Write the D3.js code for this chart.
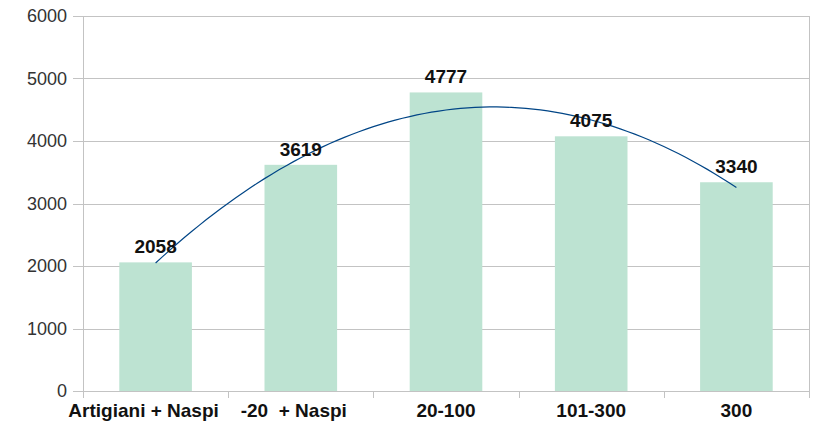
<!DOCTYPE html>
<html>
<head>
<meta charset="utf-8">
<script src="https://cdn.jsdelivr.net/npm/d3@7"></script>
<style>
  body { margin: 0; background: #fff; }
  svg { display: block; font-family: "Liberation Sans", Arial, sans-serif; }
  text { white-space: pre; }
</style>
</head>
<body>
<svg id="chart" width="818" height="423"></svg>
<script>
// data
const categories = ['Artigiani + Naspi', '-20  + Naspi', '20-100', '101-300', '300']
const values = [2058, 3619, 4777, 4075, 3340]
const yTicks = [0, 1000, 2000, 3000, 4000, 5000, 6000]
// shift of the first two category labels, as they overlap in the original
const labelShift = [-12, -7, 0, 0, 0]

let svg = d3.select('#chart')

let x = d3.scaleBand().domain(categories).range([83, 809]).paddingInner(0.5).paddingOuter(0.25)
let y = d3.scaleLinear().domain([0, 6000]).range([391, 16])

const GRID = '#c3c3c3'

// gridlines + y ticks
svg.append('g')
  .selectAll('line')
  .data(yTicks)
  .enter()
  .append('line')
  .attr('x1', 73)
  .attr('x2', 809)
  .attr('y1', d => Math.round(y(d)) + 0.5)
  .attr('y2', d => Math.round(y(d)) + 0.5)
  .attr('stroke', GRID)

// y labels
svg.append('g')
  .selectAll('text')
  .data(yTicks)
  .enter()
  .append('text')
  .attr('x', 67)
  .attr('y', d => y(d))
  .attr('dy', '0.35em')
  .attr('text-anchor', 'end')
  .attr('font-size', '18px')
  .attr('fill', '#333')
  .text(d => d)

// bars
svg.append('g')
  .selectAll('rect')
  .data(values)
  .enter()
  .append('rect')
  .attr('x', (d, i) => x(categories[i]))
  .attr('y', d => y(d))
  .attr('width', x.bandwidth())
  .attr('height', d => y(0) - y(d))
  .attr('fill', '#bde3d2')

// axes lines
let domainEdges = [x.range()[0], ...categories.map(c => x(c) - x.step() * x.paddingInner() / 2).slice(1), x.range()[1]]
svg.append('g')
  .selectAll('line')
  .data(domainEdges)
  .enter()
  .append('line')
  .attr('x1', d => Math.round(d) + 0.5)
  .attr('x2', d => Math.round(d) + 0.5)
  .attr('y1', 391)
  .attr('y2', 398)
  .attr('stroke', GRID)

svg.append('line')
  .attr('x1', 83.5).attr('x2', 83.5)
  .attr('y1', 16).attr('y2', 398)
  .attr('stroke', GRID)
svg.append('line')
  .attr('x1', 809.5).attr('x2', 809.5)
  .attr('y1', 16).attr('y2', 398)
  .attr('stroke', GRID)
svg.append('line')
  .attr('x1', 83).attr('x2', 810)
  .attr('y1', Math.round(y(0)) + 0.5).attr('y2', Math.round(y(0)) + 0.5)
  .attr('stroke', GRID)

// quadratic trend line (least squares on bar values)
let n = values.length
let ts = values.map((v, i) => i - (n - 1) / 2)
let mean = d3.mean(values)
let b = d3.sum(values, (v, i) => ts[i] * v) / d3.sum(ts, t => t * t)
let mt2 = d3.mean(ts, t => t * t)
let c = d3.sum(values, (v, i) => (ts[i] * ts[i] - mt2) * v) / d3.sum(ts, t => (t * t - mt2) ** 2)
let fit = t => mean + b * t + c * (t * t - mt2)

let xc = i => x(categories[0]) + x.bandwidth() / 2 + i * x.step()
let pts = d3.range(0, n - 1 + 0.001, 0.05).map(i => [xc(i), y(fit(i - (n - 1) / 2))])
svg.append('path')
  .attr('d', d3.line()(pts))
  .attr('fill', 'none')
  .attr('stroke', '#004586')
  .attr('stroke-width', 1.2)

// value labels
svg.append('g')
  .selectAll('text')
  .data(values)
  .enter()
  .append('text')
  .attr('x', (d, i) => x(categories[i]) + x.bandwidth() / 2)
  .attr('y', d => y(d) - 9)
  .attr('text-anchor', 'middle')
  .attr('font-size', '19px')
  .attr('font-weight', 'bold')
  .attr('fill', '#111')
  .text(d => d)

// category labels
svg.append('g')
  .selectAll('text')
  .data(categories)
  .enter()
  .append('text')
  .attr('x', (d, i) => x(d) + x.bandwidth() / 2 + labelShift[i])
  .attr('y', 417)
  .attr('text-anchor', 'middle')
  .attr('font-size', '19px')
  .attr('font-weight', 'bold')
  .attr('fill', '#111')
  .text(d => d)
</script>
</body>
</html>
